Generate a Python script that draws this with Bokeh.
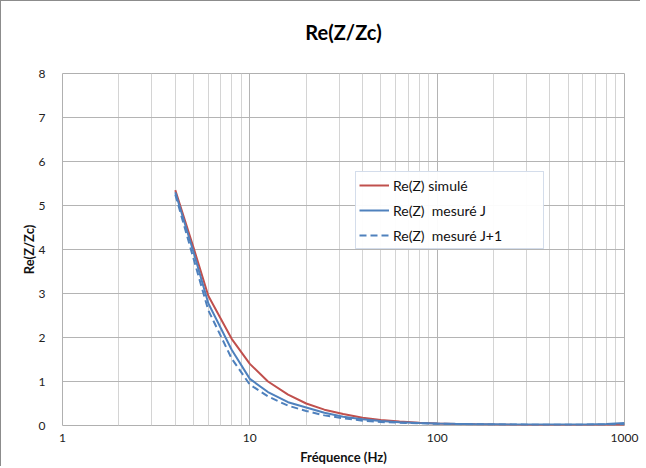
from bokeh.plotting import figure
from bokeh.models import FixedTicker, BasicTickFormatter, Legend, LegendItem, Range1d, Title
from bokeh.embed import file_html
from bokeh.resources import INLINE

# ---- data ----
freq = [4, 5, 6, 8, 10, 12.5, 16, 20, 25, 31.5, 40, 50, 63, 80, 100,
        125, 160, 200, 250, 315, 400, 500, 630, 800, 1000]
re_simule = [5.35, 4.05, 2.95, 1.97, 1.40, 1.00, 0.70, 0.50, 0.36, 0.26,
             0.175, 0.125, 0.09, 0.065, 0.048, 0.036, 0.027, 0.021, 0.017,
             0.014, 0.012, 0.011, 0.010, 0.010, 0.010]
re_mesure_j = [5.30, 3.95, 2.78, 1.72, 1.06, 0.76, 0.53, 0.41, 0.29, 0.20,
               0.14, 0.10, 0.075, 0.058, 0.046, 0.037, 0.030, 0.026, 0.023,
               0.021, 0.020, 0.021, 0.024, 0.032, 0.055]
re_mesure_j1 = [5.25, 3.80, 2.62, 1.52, 0.93, 0.66, 0.45, 0.33, 0.23, 0.165,
                0.11, 0.08, 0.062, 0.05, 0.04, 0.033, 0.027, 0.024, 0.021,
                0.019, 0.018, 0.018, 0.020, 0.025, 0.035]
series_labels = ["Re(Z) simulé", "Re(Z)  mesuré J", "Re(Z)  mesuré J+1"]
x_major_ticks = [1, 10, 100, 1000]
x_minor_ticks = [2, 3, 4, 5, 6, 7, 8, 9, 20, 30, 40, 50, 60, 70, 80, 90,
                 200, 300, 400, 500, 600, 700, 800, 900]
y_ticks = [0, 1, 2, 3, 4, 5, 6, 7, 8]

FONT = "Lato"
RED = "#C0504D"
BLUE = "#4F81BD"

p = figure(width=640, height=466, x_axis_type="log",
           x_range=Range1d(1, 1000), y_range=Range1d(0, 8),
           output_backend="svg", toolbar_location=None,
           title="Re(Z/Zc)",
           min_border_left=61, min_border_right=17, min_border_top=72,
           min_border_bottom=40)

p.styles = {"border-left": "1px solid #8c8c8c", "border-top": "1px solid #8c8c8c"}

p.title.align = "center"
p.title.vertical_align = "bottom"
p.title.text_font = FONT
p.title.text_font_size = "20px"
p.title.text_font_style = "bold"
p.title.text_color = "#000000"
p.title.standoff = 0

# empty spacer between the title and the plot area
p.add_layout(Title(text=" ", text_font_size="1px", standoff=27), "above")

p.outline_line_color = "#b0b0b0"
p.outline_line_width = 1
p.background_fill_color = "white"
p.border_fill_color = "white"

p.xaxis.ticker = FixedTicker(ticks=x_major_ticks, minor_ticks=x_minor_ticks)
p.xaxis.formatter = BasicTickFormatter(use_scientific=False)
p.yaxis.ticker = FixedTicker(ticks=y_ticks)

for ax in (p.xaxis, p.yaxis):
    ax.axis_line_color = None
    ax.major_tick_line_color = None
    ax.minor_tick_line_color = None
    ax.major_label_text_font = FONT
    ax.major_label_text_font_size = "12px"
    ax.major_label_text_color = "#222222"
    ax.axis_label_text_font = FONT
    ax.axis_label_text_font_size = "13px"
    ax.axis_label_text_font_style = "bold"
    ax.axis_label_text_color = "#111111"

p.xaxis.axis_label = "Fréquence (Hz)"
p.yaxis.axis_label = "Re(Z/Zc)"
p.xaxis.major_label_standoff = 2
p.xaxis.axis_label_standoff = 4
p.yaxis.major_label_standoff = 11
p.yaxis.axis_label_standoff = -1

p.xgrid.grid_line_color = "#b4b4b4"
p.xgrid.minor_grid_line_color = "#d4d4d4"
p.ygrid.grid_line_color = "#b4b4b4"

r1 = p.line(freq, re_simule, line_color=RED, line_width=2)
r2 = p.line(freq, re_mesure_j, line_color=BLUE, line_width=2)
r3 = p.line(freq, re_mesure_j1, line_color=BLUE, line_width=2, line_dash="7 4")

legend = Legend(items=[LegendItem(label=series_labels[0], renderers=[r1]),
                       LegendItem(label=series_labels[1], renderers=[r2]),
                       LegendItem(label=series_labels[2], renderers=[r3])],
                location=(293, 176))
legend.label_text_font = FONT
legend.label_text_font_size = "14px"
legend.label_text_color = "#111111"
legend.border_line_color = "#a9bcd8"
legend.border_line_width = 1
legend.padding = 3
legend.spacing = 5
legend.label_height = 20
legend.glyph_height = 20
legend.glyph_width = 30
legend.label_standoff = 4
legend.label_width = 147
legend.margin = 0
p.add_layout(legend, "center")

open("out.html", "w").write(file_html(p, INLINE))
